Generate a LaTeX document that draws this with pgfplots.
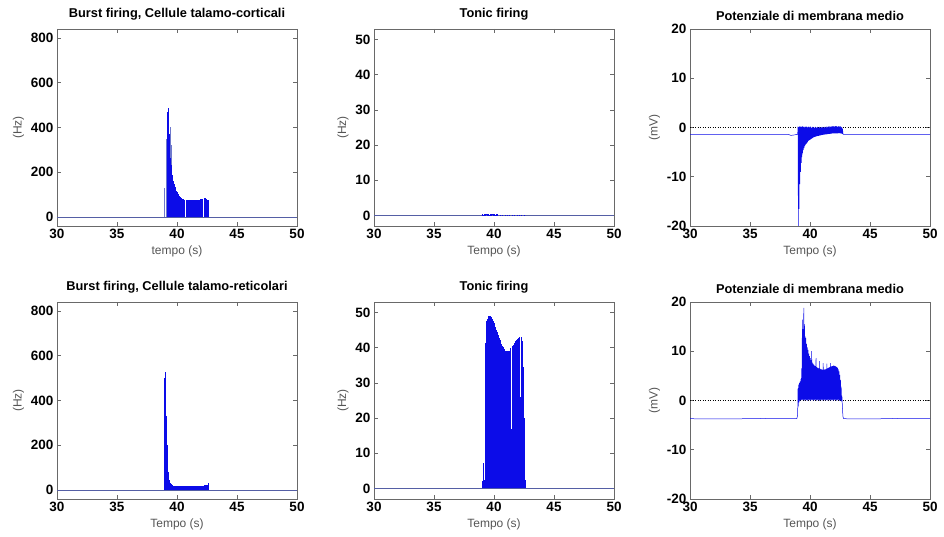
\documentclass[border=0pt]{standalone}
\usepackage{fontspec}
\setmainfont{Liberation Sans}
\usepackage{pgfplots}
\pgfplotsset{compat=1.18}

\definecolor{sig}{RGB}{12,12,232}
\definecolor{sigl}{RGB}{110,120,205}
\definecolor{base}{RGB}{85,95,165}
\definecolor{frame}{RGB}{105,105,105}
\definecolor{lbl}{RGB}{85,85,85}

\pgfplotsset{
  panel/.style={
    scale only axis, width=240pt, height=197pt,
    anchor=north west,
    xmin=30, xmax=50, xtick={30,35,40,45,50},
    axis line style={frame, line width=0.8pt},
    tick style={frame, line width=0.6pt},
    tick align=inside, major tick length=4pt,
    tick pos=both,
    ticklabel style={font=\fontsize{13.5}{15}\selectfont\bfseries, text=black},
    /pgf/number format/assume math mode=true,
    label style={font=\fontsize{12}{14}\selectfont, text=lbl},
    title style={font=\fontsize{12.8}{14}\selectfont\bfseries, yshift=-1pt},
  },
  hz/.style={ymin=-40, ymax=840, ytick={0,200,400,600,800}, ylabel={(Hz)}},
  hzt/.style={ymin=-3, ymax=53, ytick={0,10,20,30,40,50}, ylabel={(Hz)}},
  mv/.style={ymin=-20, ymax=20, ytick={-20,-10,0,10,20}, ylabel={(mV)}},
  comb/.style={ycomb, sig, line width=0.7pt},
  combl/.style={ycomb, sigl, line width=0.6pt},
  baseline/.style={base, line width=0.7pt},
}

\begin{document}
\begin{tikzpicture}
\path[use as bounding box] (0,0) rectangle (944pt,-537pt);

% ---- top left: burst firing, thalamo-cortical cells
\begin{axis}[panel, hz, at={(57pt,-29pt)},
  title={Burst firing, Cellule talamo-corticali}, xlabel={tempo (s)}]
\addplot[baseline] coordinates {(30,0) (50,0)};
\addplot[combl] coordinates {(38.92,129) (39.08,350) (39.42,401) (39.56,320)};
\addplot[comb] coordinates {
(39.20,300) (39.23,470) (39.26,486) (39.30,460) (39.35,370) (39.40,310) (39.45,265)
(39.50,232) (39.55,207) (39.60,187) (39.65,171) (39.70,159) (39.75,149)
(39.80,140) (39.85,132) (39.90,125) (39.95,118) (40.00,112) (40.05,106)
(40.10,101) (40.15,97) (40.20,93) (40.25,90) (40.35,85)
(40.40,83) (40.45,81) (40.50,80) (40.55,79) (40.60,78) (40.65,77)
(40.75,76) (40.80,76) (40.85,76) (40.90,75) (40.95,75) (41.00,75)
(41.05,75) (41.15,74) (41.20,74) (41.25,74) (41.30,74) (41.35,74)
(41.45,75) (41.50,75) (41.55,75) (41.60,76) (41.65,76) (41.70,76)
(41.75,77) (41.85,78) (41.90,78) (41.95,79) (42.00,79) (42.05,80)
(42.10,80) (42.15,81) (42.25,82) (42.30,83) (42.35,83) (42.40,82)
(42.45,81) (42.55,78) (42.60,76)};
\end{axis}

% ---- top middle: tonic firing, thalamo-cortical cells
\begin{axis}[panel, hzt, at={(374pt,-29pt)},
  title={Tonic firing}, xlabel={Tempo (s)}]
\addplot[baseline] coordinates {(30,0) (50,0)};
\addplot[comb, line width=0.6pt] coordinates {
(39.00,0.25) (39.05,0.3) (39.10,0.25) (39.15,0.3) (39.20,0.25) (39.25,0.3)
(39.30,0.25) (39.35,0.3) (39.40,0.25) (39.45,0.3) (39.50,0.25) (39.55,0.3)
(39.60,0.25) (39.65,0.3) (39.70,0.25) (39.75,0.3) (39.80,0.25) (39.85,0.3)
(39.90,0.25) (39.95,0.3) (40.00,0.25) (40.05,0.3) (40.10,0.25) (40.15,0.3)
(40.20,0.25) (40.25,0.3) (40.30,0.25) (40.50,0.2) (40.70,0.2) (40.90,0.2)
(41.10,0.2) (41.30,0.2) (41.50,0.2) (41.70,0.2) (41.90,0.2) (42.10,0.2)
(42.30,0.2) (42.50,0.2)};
\end{axis}

% ---- top right: mean membrane potential, thalamo-cortical cells
\begin{axis}[panel, mv, at={(690pt,-29pt)},
  title={Potenziale di membrana medio}, xlabel={Tempo (s)}]
\addplot[black, dotted, line width=0.5pt] coordinates {(30,0) (50,0)};
\addplot[sig, line width=0.5pt] coordinates {
(30,-1.4) (34,-1.4) (38.2,-1.4) (38.4,-1.6) (38.6,-1.55) (38.8,-1.45) (38.97,-1.4)
(39.00,0.2) (39.03,-21) (39.06,0.1) (39.09,-16.5) (39.12,0.2) (39.15,-11.5)
(39.18,0.3) (39.21,-9.0) (39.24,0.1) (39.27,-7.2) (39.30,0.2) (39.33,-6.0)
(39.36,0.3) (39.39,-5.2) (39.42,0.1) (39.45,-4.6) (39.48,0.2) (39.51,-4.2)
(39.54,0.0) (39.57,-3.8) (39.60,0.2) (39.63,-3.5) (39.66,0.1) (39.69,-3.3)
(39.72,0.2) (39.75,-3.1) (39.78,0.0) (39.81,-2.9) (39.84,0.2) (39.87,-2.7)
(39.90,0.1) (39.93,-2.6) (39.96,0.0) (39.99,-2.5) (40.02,0.2) (40.05,-2.4)
(40.08,0.1) (40.11,-2.3) (40.14,-0.1) (40.17,-2.2) (40.20,0.1) (40.23,-2.1)
(40.26,0.0) (40.29,-2.0) (40.32,0.1) (40.35,-1.95) (40.38,-0.1) (40.41,-1.9)
(40.44,0.1) (40.47,-1.85) (40.50,0.0) (40.53,-1.8) (40.56,-0.1) (40.59,-1.75)
(40.62,0.1) (40.65,-1.7) (40.68,0.0) (40.71,-1.7) (40.74,-0.1) (40.77,-1.65)
(40.80,0.1) (40.83,-1.6) (40.86,0.0) (40.89,-1.6) (40.92,-0.1) (40.95,-1.55)
(40.98,0.1) (41.01,-1.5) (41.04,0.0) (41.07,-1.5) (41.10,0.1) (41.13,-1.45)
(41.16,-0.1) (41.19,-1.45) (41.22,0.1) (41.25,-1.4) (41.28,0.0) (41.31,-1.4)
(41.34,0.2) (41.37,-1.4) (41.40,0.0) (41.43,-1.35) (41.46,0.1) (41.49,-1.35)
(41.52,0.2) (41.55,-1.3) (41.58,0.0) (41.61,-1.3) (41.64,0.2) (41.67,-1.3)
(41.70,0.1) (41.73,-1.25) (41.76,0.3) (41.79,-1.25) (41.82,0.1) (41.85,-1.2)
(41.88,0.3) (41.91,-1.2) (41.94,0.2) (41.97,-1.2) (42.00,0.3) (42.03,-1.2)
(42.06,0.1) (42.09,-1.2) (42.12,0.3) (42.15,-1.2) (42.18,0.2) (42.21,-1.2)
(42.24,0.3) (42.27,-1.2) (42.30,0.1) (42.33,-1.2) (42.36,0.2) (42.39,-1.15)
(42.42,0.3) (42.45,-1.15) (42.48,0.1) (42.51,-1.2) (42.54,0.2) (42.57,-1.2)
(42.60,0.1) (42.63,-1.25) (42.66,0.0) (42.69,-1.3)
(42.72,-0.6) (42.76,-1.4) (50,-1.4)};
\end{axis}

% ---- bottom left: burst firing, thalamo-reticular cells
\begin{axis}[panel, hz, at={(57pt,-302pt)},
  title={Burst firing, Cellule talamo-reticolari}, xlabel={Tempo (s)}]
\addplot[baseline] coordinates {(30,0) (50,0)};
\addplot[combl] coordinates {(38.95,270)};
\addplot[comb] coordinates {
(38.98,500) (39.01,526) (39.04,505) (39.07,490) (39.10,330) (39.13,270)
(39.16,200) (39.20,130) (39.25,80)
(39.30,55) (39.35,45) (39.40,38) (39.45,32) (39.50,28) (39.55,25) (39.60,23)
(39.65,21) (39.70,20) (39.75,19) (39.80,19) (39.85,18) (39.90,18) (39.95,17)
(40.00,18) (40.05,17) (40.10,16) (40.15,17) (40.20,18) (40.25,17) (40.30,16)
(40.35,17) (40.40,18) (40.45,17) (40.50,16) (40.55,17) (40.60,18) (40.65,17)
(40.70,16) (40.75,17) (40.80,18) (40.85,17) (40.90,16) (40.95,17) (41.00,18)
(41.05,17) (41.10,16) (41.15,17) (41.20,18) (41.25,17) (41.30,16) (41.35,17)
(41.40,18) (41.45,17) (41.50,16) (41.55,17) (41.60,18) (41.65,17) (41.70,16)
(41.75,17) (41.80,18) (41.85,18) (41.90,17) (41.95,18) (42.00,19) (42.05,18)
(42.10,19) (42.15,20) (42.20,19) (42.25,20) (42.30,21) (42.35,20) (42.40,21)
(42.45,22) (42.50,21) (42.55,22) (42.60,23) (42.65,33)};
\end{axis}

% ---- bottom middle: tonic firing, thalamo-reticular cells
\begin{axis}[panel, hzt, at={(374pt,-302pt)},
  title={Tonic firing}, xlabel={Tempo (s)}]
\addplot[baseline] coordinates {(30,0) (50,0)};
\addplot[comb, line width=0.65pt] coordinates {
(39.03,2) (39.11,7.3) (39.16,1.5) (39.21,2.5) (39.26,3)
(39.30,41.3) (39.35,46.5) (39.40,47.6) (39.45,48.3) (39.50,48.8) (39.55,48.9)
(39.60,49.0) (39.65,49.0) (39.70,49.0) (39.75,48.8) (39.80,48.5) (39.85,48.2)
(39.90,4.5) (39.95,47.5) (40.00,47.0) (40.05,46.5) (40.10,46.0) (40.15,45.5)
(40.20,45.0) (40.25,44.5) (40.30,44.0) (40.35,43.5) (40.40,29.5) (40.45,42.7)
(40.50,42.2) (40.55,41.7) (40.60,20.5) (40.65,41.0) (40.70,40.6) (40.75,40.3)
(40.80,40.0) (40.85,39.7) (40.90,39.4) (40.95,39.2) (41.00,39.0) (41.05,5)
(41.10,38.9) (41.15,39.0) (41.20,39.1) (41.25,39.2) (41.30,20) (41.35,39.5)
(41.40,39.8) (41.45,17) (41.50,40.2) (41.55,40.5) (41.60,40.8) (41.65,12)
(41.70,41.3) (41.75,41.6) (41.80,41.9) (41.85,42.1) (41.90,4) (41.95,42.5)
(42.00,42.7) (42.05,42.9) (42.10,43.0) (42.15,43.1) (42.20,26) (42.25,43.0)
(42.30,42.7) (42.35,42.0) (42.40,38) (42.45,34.5) (42.50,20) (42.55,5) (42.60,2.5)};
\end{axis}

% ---- bottom right: mean membrane potential, thalamo-reticular cells
\begin{axis}[panel, mv, at={(690pt,-302pt)},
  title={Potenziale di membrana medio}, xlabel={Tempo (s)}]
\addplot[black, dotted, line width=0.5pt] coordinates {(30,0) (50,0)};
\addplot[sig, line width=0.5pt] coordinates {
(30,-3.7) (33,-3.75) (36,-3.65) (38.9,-3.7) (38.97,-3.0)
(39.00,2.5) (39.03,-1.2) (39.06,3.2) (39.09,-0.4) (39.12,3.6) (39.15,0.0)
(39.18,3.9) (39.21,0.1) (39.24,4.4) (39.27,0.2) (39.30,6.5) (39.33,0.1)
(39.36,16.4) (39.39,0.2) (39.42,14.5) (39.45,0.1) (39.48,18.8) (39.51,0.2)
(39.54,15.5) (39.57,0.0) (39.60,13.0) (39.63,0.2) (39.66,12.7) (39.69,0.1)
(39.72,11.5) (39.75,0.2) (39.78,10.8) (39.81,0.0) (39.84,10.3) (39.87,0.2)
(39.90,9.5) (39.93,0.1) (39.96,9.0) (39.99,0.2) (40.02,8.6) (40.05,0.0)
(40.08,8.2) (40.11,0.2) (40.14,10.0) (40.17,0.1) (40.20,7.7) (40.23,0.2)
(40.26,7.5) (40.29,0.0) (40.32,7.3) (40.35,0.2) (40.38,7.1) (40.41,0.1)
(40.44,7.0) (40.47,0.2) (40.50,8.6) (40.53,0.0) (40.56,6.8) (40.59,0.2)
(40.62,6.7) (40.65,0.1) (40.68,6.6) (40.71,0.2) (40.74,6.5) (40.77,0.0)
(40.80,8.0) (40.83,0.2) (40.86,6.4) (40.89,0.1) (40.92,6.3) (40.95,0.2)
(40.98,6.3) (41.01,0.0) (41.04,6.2) (41.07,0.2) (41.10,7.6) (41.13,0.1)
(41.16,6.2) (41.19,0.2) (41.22,6.3) (41.25,0.0) (41.28,6.3) (41.31,0.2)
(41.34,6.4) (41.37,0.1) (41.40,7.5) (41.43,0.2) (41.46,6.5) (41.49,0.0)
(41.52,6.6) (41.55,0.2) (41.58,6.7) (41.61,0.1) (41.64,6.8) (41.67,0.2)
(41.70,7.6) (41.73,0.0) (41.76,6.9) (41.79,0.2) (41.82,7.0) (41.85,0.1)
(41.88,7.0) (41.91,0.2) (41.94,7.1) (41.97,0.0) (42.00,7.1) (42.03,0.2)
(42.06,7.0) (42.09,0.1) (42.12,7.0) (42.15,0.2) (42.18,6.9) (42.21,0.0)
(42.24,6.8) (42.27,0.2) (42.30,6.6) (42.33,0.1) (42.36,6.3) (42.39,0.2)
(42.42,5.9) (42.45,0.0) (42.48,5.2) (42.51,0.1) (42.54,4.2) (42.57,0.0)
(42.60,2.8) (42.63,-0.2) (42.66,1.0) (42.69,-0.8)
(42.74,-3.2) (42.80,-3.7) (45,-3.75) (47,-3.65) (50,-3.7)};
\end{axis}
\end{tikzpicture}
\end{document}
